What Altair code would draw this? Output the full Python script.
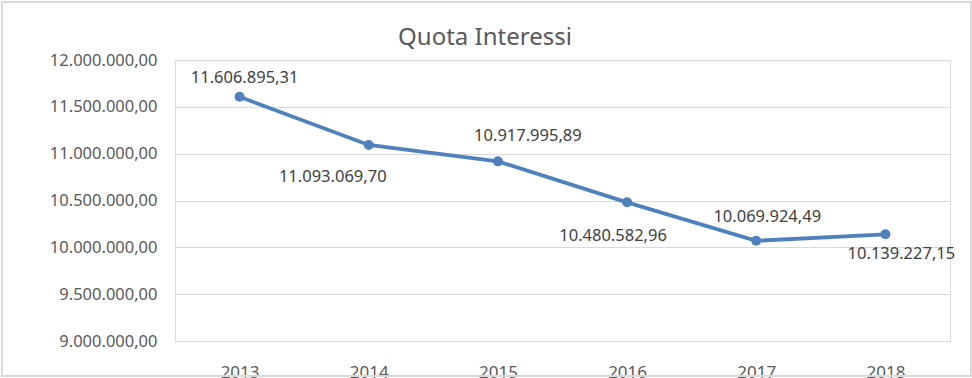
import altair as alt
import pandas as pd

years = ["2013", "2014", "2015", "2016", "2017", "2018"]
values = [11606895.31, 11093069.70, 10917995.89, 10480582.96, 10069924.49, 10139227.15]
y_ticks = [9000000, 9500000, 10000000, 10500000, 11000000, 11500000, 12000000]
title_text = "Quota Interessi"

df = pd.DataFrame({"anno": years, "quota": values})

W, H = 775, 281
FONT = "Noto Sans"
BLUE = "#4F81BD"

x = alt.X("anno:N", sort=years, scale=alt.Scale(type="point", padding=0.5),
          axis=alt.Axis(title=None, labelAngle=0, domain=False, ticks=False,
                        labelPadding=23, labelFontSize=17, labelColor="#595959",
                        labelFont=FONT, grid=False))
y = alt.Y("quota:Q", scale=alt.Scale(domain=[9000000, 12000000], nice=False, zero=False),
          axis=alt.Axis(title=None, values=y_ticks, format=",.2f", domain=False, ticks=False,
                        labelPadding=18, labelFontSize=16.5, labelColor="#595959",
                        labelFont=FONT, gridColor="#D9D9D9", gridWidth=1))

base = alt.Chart(df)
line = base.mark_line(color=BLUE, strokeWidth=3.8).encode(x=x, y=y)
pts = base.mark_point(filled=True, color=BLUE, size=100, opacity=1).encode(x=x, y=y)

offsets = [(5, -19), (-36, 32), (30, -25), (-14, 34), (11, -24), (16, 20)]
labels = []
for yr, (dx, dy) in zip(years, offsets):
    labels.append(
        base.transform_filter(alt.datum.anno == yr)
        .mark_text(dx=dx, dy=dy, align="center", baseline="middle",
                   font=FONT, fontSize=16.5, color="#404040")
        .encode(x=x, y=y, text=alt.Text("quota:Q", format=",.2f"))
    )

one = alt.Data(values=[{}])
frame = alt.Chart(one).mark_rect(
    fill=None, stroke="#D9D9D9", strokeWidth=2
).encode(x=alt.value(-173), x2=alt.value(W + 21), y=alt.value(-58), y2=alt.value(H + 35))

title = alt.Chart(one).mark_text(
    text=title_text, font=FONT, fontSize=24, color="#595959",
    align="center", baseline="middle"
).encode(x=alt.value(310), y=alt.value(-22))

chart = alt.layer(frame, line, pts, *labels, title).properties(
    width=W, height=H,
    autosize=alt.AutoSizeParams(type="none"),
    padding={"left": 175, "top": 60, "right": 22, "bottom": 37},
).configure_view(stroke=None).configure(background="white")

chart.save("out.html", embed_options={
    "renderer": "svg", "actions": False,
    "formatLocale": {"decimal": ",", "thousands": ".", "grouping": [3], "currency": ["", " €"]},
})
